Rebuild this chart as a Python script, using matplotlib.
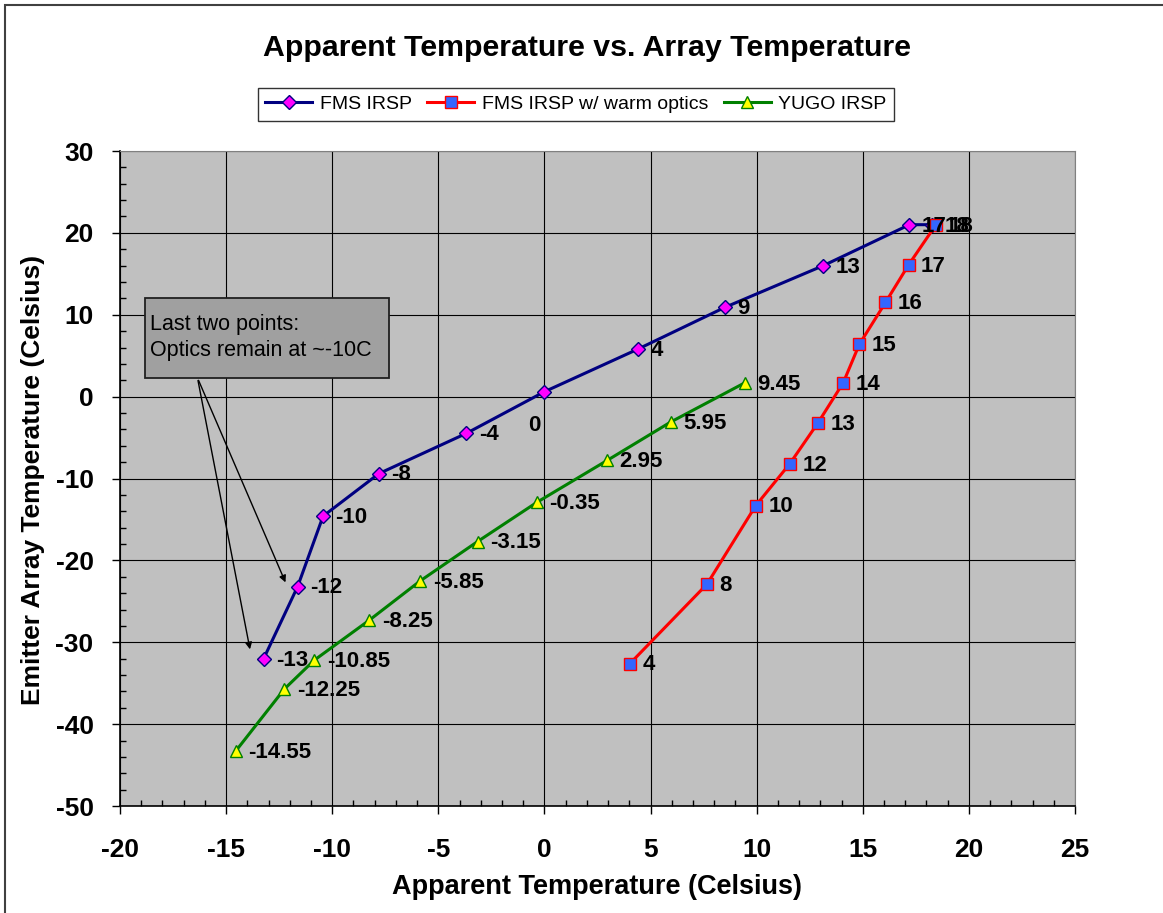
import matplotlib
matplotlib.use("Agg")
import matplotlib.pyplot as plt
import matplotlib.patches as patches
from matplotlib.ticker import MultipleLocator
import numpy as np

plt.rcParams['font.family'] = ['Liberation Sans', 'DejaVu Sans']
plt.rcParams['axes.unicode_minus'] = False

# data
fms_x = [-13.23, -11.63, -10.43, -7.80, -3.69, 0.0, 4.40, 8.50, 13.14, 17.20, 18.25]
fms_y = [-32.0, -23.2, -14.6, -9.4, -4.5, 0.6, 5.8, 10.9, 16.0, 21.0, 21.0]
fms_lbl = ["-13", "-12", "-10", "-8", "-4", "0", "4", "9", "13", "17", "18"]

warm_x = [4.03, 7.66, 9.96, 11.56, 12.89, 14.08, 14.84, 16.07, 17.16, 18.45]
warm_y = [-32.6, -22.9, -13.3, -8.2, -3.2, 1.7, 6.4, 11.5, 16.1, 21.0]
warm_lbl = ["4", "8", "10", "12", "13", "14", "15", "16", "17", "18"]

yugo_x = [-14.55, -12.25, -10.85, -8.25, -5.85, -3.15, -0.35, 2.95, 5.95, 9.45]
yugo_y = [-43.3, -35.7, -32.2, -27.3, -22.5, -17.7, -12.9, -7.8, -3.1, 1.7]
yugo_lbl = ["-14.55", "-12.25", "-10.85", "-8.25", "-5.85", "-3.15", "-0.35", "2.95", "5.95", "9.45"]

fig = plt.figure(figsize=(11.63, 9.13), dpi=100)
ax = fig.add_axes([120/1163, 1-806/913, (1075-120)/1163, (806-151)/913])
ax.set_facecolor('#c0c0c0')

ax.plot(fms_x, fms_y, '-', color='#000080', lw=2.2, marker='D', ms=7,
        mfc='#ff00ff', mec='#000080', mew=1, label='FMS IRSP', zorder=4)
ax.plot(warm_x, warm_y, '-', color='#ff0000', lw=2.2, marker='s', ms=8,
        mfc='#3366ff', mec='#ff0000', mew=1, label='FMS IRSP w/ warm optics', zorder=5)
ax.plot(yugo_x, yugo_y, '-', color='#008000', lw=2.2, marker='^', ms=9,
        mfc='#ffff00', mec='#008000', mew=1, label='YUGO IRSP', zorder=4)

lblkw = dict(textcoords='offset points', fontsize=16, fontweight='bold',
             va='center', ha='left', zorder=6)
for x, y, t in zip(fms_x, fms_y, fms_lbl):
    if t == "0":
        ax.annotate(t, (x, y), xytext=(-7, -24), **{**lblkw, 'ha': 'center'})
    else:
        ax.annotate(t, (x, y), xytext=(9, -1), **lblkw)
for x, y, t in zip(warm_x, warm_y, warm_lbl):
    ax.annotate(t, (x, y), xytext=(9, -1), **lblkw)
for x, y, t in zip(yugo_x, yugo_y, yugo_lbl):
    ax.annotate(t, (x, y), xytext=(9, -1), **lblkw)

ax.set_xlim(-20, 25)
ax.set_ylim(-50, 30)
ax.xaxis.set_major_locator(MultipleLocator(5))
ax.yaxis.set_major_locator(MultipleLocator(10))
ax.xaxis.set_minor_locator(MultipleLocator(1))
ax.yaxis.set_minor_locator(MultipleLocator(2))
ax.grid(True, which='major', color='black', lw=0.8)
ax.set_axisbelow(True)
ax.tick_params(which='major', direction='out', length=6, width=1, labelsize=19)
ax.tick_params(axis='x', which='major', pad=17)
ax.tick_params(axis='y', which='major', pad=13)
ax.tick_params(which='minor', direction='in', length=4, width=1)
for lab in ax.get_xticklabels() + ax.get_yticklabels():
    lab.set_fontweight('bold')
for s in ['top', 'right']:
    ax.spines[s].set_color('#808080')
for s in ['left', 'bottom']:
    ax.spines[s].set_color('black')
    ax.spines[s].set_linewidth(1.2)

# note box with arrows
box = patches.Rectangle((-18.81, 2.32), 11.48, 9.77, facecolor='#a0a0a0',
                        edgecolor='#202020', lw=1.3, zorder=7)
ax.add_patch(box)
ax.text(-18.57, 7.2, "Last two points:\nOptics remain at ~-10C", fontsize=15.5,
        va='center', ha='left', linespacing=1.3, zorder=8)
for tx, ty in [(-12.15, -23.0), (-13.85, -31.2)]:
    ax.annotate('', xy=(tx, ty), xytext=(-16.35, 2.3),
                arrowprops=dict(arrowstyle='-|>', color='black', lw=1,
                                mutation_scale=10), zorder=6)

fig.text(0.505, 1-48/913, "Apparent Temperature vs. Array Temperature",
         fontsize=21.8, fontweight='bold', ha='center', va='center')
fig.text(597/1163, 1-887/913, "Apparent Temperature (Celsius)",
         fontsize=19.5, fontweight='bold', ha='center', va='center')
fig.text(33/1163, 1-480/913, "Emitter Array Temperature (Celsius)",
         fontsize=19, fontweight='bold', ha='center', va='center', rotation=90)

leg = fig.legend(loc='center', bbox_to_anchor=(576/1163, 1-104.5/913), ncol=3,
                 fontsize=14, frameon=True, fancybox=False, borderpad=0.4,
                 handlelength=2.4, handletextpad=0.4, columnspacing=0.8,
                 borderaxespad=0)
leg.get_frame().set_edgecolor('black')
leg.get_frame().set_linewidth(1)

# outer chart border
fig.add_artist(patches.Rectangle((5/1163, -0.1), 1.2, 1-5/913+0.1,
                                 transform=fig.transFigure, fill=False,
                                 edgecolor='#404040', lw=1.5))

fig.savefig("out.png", dpi=100)
